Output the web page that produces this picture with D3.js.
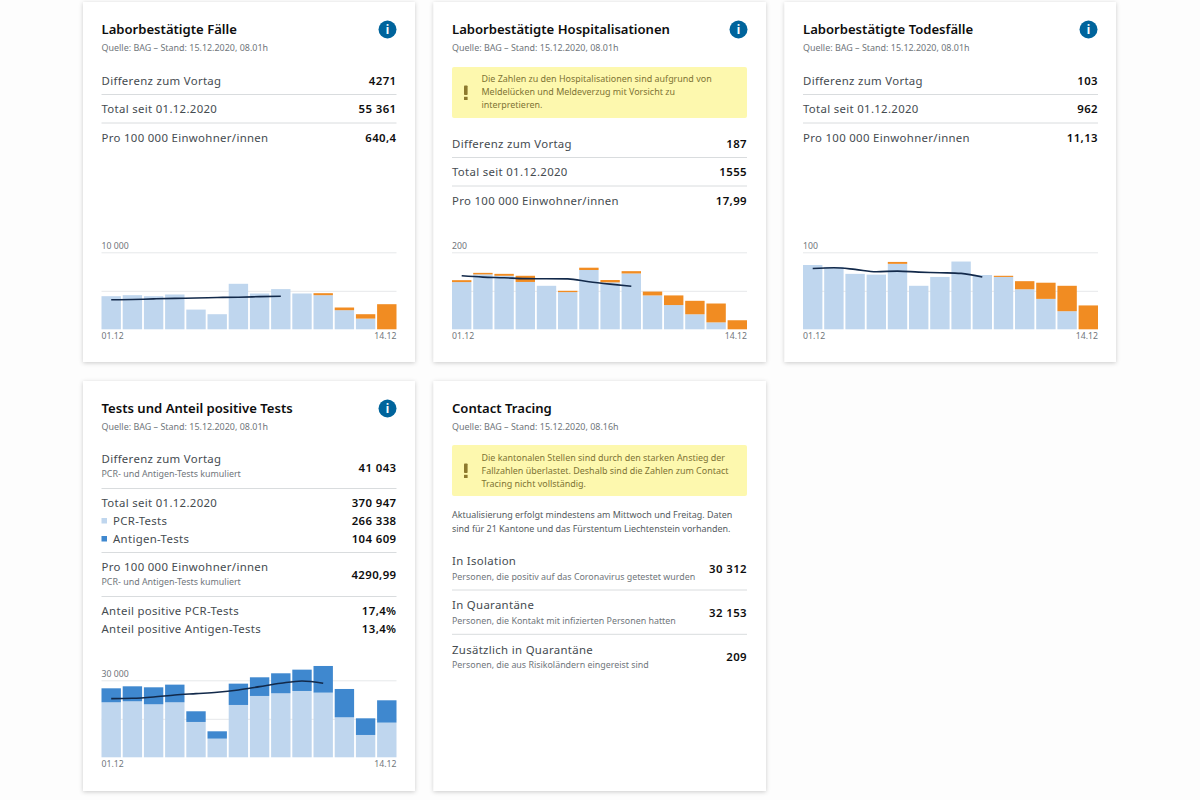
<!DOCTYPE html>
<html lang="de">
<head>
<meta charset="utf-8">
<title>COVID-19 Schweiz – Kennzahlen</title>
<script src="https://cdn.jsdelivr.net/npm/d3@7/dist/d3.min.js"></script>
<style>
html,body{margin:0;padding:0;background:#fdfdfd;overflow:hidden}
svg{display:block}
text{font-family:"Noto Sans","Open Sans",sans-serif}
</style>
</head>
<body>
<svg id="board" width="1200" height="800"></svg>
<script>
const days = ["01.12","02.12","03.12","04.12","05.12","06.12","07.12","08.12","09.12","10.12","11.12","12.12","13.12","14.12"];

// Laborbestätigte Fälle
const casesComplete = [4300,4430,4300,4520,2560,1960,5910,4650,5220,4650,4430,2480,1390,0];
const casesPending  = [0,0,0,0,0,0,0,0,0,0,260,350,570,3260];
const casesAverage  = [3830,3870,3950,4020,4060,4130,4170,4240,4300];

// Laborbestätigte Hospitalisationen
const hospComplete = [122.6,142.6,139,123,113,96.5,154,122,145,88,63,39,18,0];
const hospPending  = [5,4,5,16,0,3.5,6,6,6,10,25,35,49,23.5];
const hospAverage  = [139,135.6,133.9,131.5,131.3,131,123.5,117.4,112];

// Laborbestätigte Todesfälle
const deathComplete = [83.5,81,72,71,85,56.5,68,88,70.5,68,52,39.5,23.5,0];
const deathPending  = [0,0,0,0,2.5,0,0,0,0,1.5,10.5,21,33,31];
const deathAverage  = [79,79.9,77.8,74.8,75.6,74.3,73.5,72.6,67.8];

// Tests und Anteil positive Tests
const pcrTests     = [21430,21820,20650,21430,13770,7270,20390,23900,24940,25840,25190,15580,8700,13510];
const antigenTests = [5450,5840,6620,6880,4160,2860,8310,7270,7790,8310,10390,11040,6490,8700];
const testsAverage = [22860,22990,23510,24290,24810,25320,26230,27530,28830,29740,28830];

const axisLabels = ["01.12","14.12"];

const source801 = "Quelle: BAG – Stand: 15.12.2020, 08.01h";
const source816 = "Quelle: BAG – Stand: 15.12.2020, 08.16h";

const casesRows = [["Differenz zum Vortag","4271"],["Total seit 01.12.2020","55 361"],["Pro 100 000 Einwohner/innen","640,4"]];
const hospRows  = [["Differenz zum Vortag","187"],["Total seit 01.12.2020","1555"],["Pro 100 000 Einwohner/innen","17,99"]];
const deathRows = [["Differenz zum Vortag","103"],["Total seit 01.12.2020","962"],["Pro 100 000 Einwohner/innen","11,13"]];

const hospNotice = ["Die Zahlen zu den Hospitalisationen sind aufgrund von","Meldelücken und Meldeverzug mit Vorsicht zu","interpretieren."];
const tracingNotice = ["Die kantonalen Stellen sind durch den starken Anstieg der","Fallzahlen überlastet. Deshalb sind die Zahlen zum Contact","Tracing nicht vollständig."];
const tracingIntro = ["Aktualisierung erfolgt mindestens am Mittwoch und Freitag. Daten","sind für 21 Kantone und das Fürstentum Liechtenstein vorhanden."];
const tracingRows = [
  ["In Isolation","Personen, die positiv auf das Coronavirus getestet wurden","30 312"],
  ["In Quarantäne","Personen, die Kontakt mit infizierten Personen hatten","32 153"],
  ["Zusätzlich in Quarantäne","Personen, die aus Risikoländern eingereist sind","209"]
];

const INK = "#0d0d0d", BODY = "#454b50", MUTED = "#70767b", RULE = "#d9dcde";
const PALE = "#bfd6ee", ORANGE = "#f18c22", STRONG = "#3f88cf", LINE = "#12294a";
const BIG = 11.4, SMALL = 8.9, NUM_GAP = "0.4px", BODY_GAP = "0.32px";

const svg = d3.select("#board");
const defs = svg.append("defs");
const shadow = defs.append("filter").attr("id","cardShadow")
  .attr("x","-5%").attr("y","-5%").attr("width","110%").attr("height","110%");
shadow.append("feDropShadow").attr("dx",0).attr("dy",1).attr("stdDeviation",2.2)
  .attr("flood-color","#000").attr("flood-opacity",0.2);

function label(g, x, y, str, size, fill, opts = {}) {
  return g.append("text").attr("x",x).attr("y",y).text(str)
    .attr("font-size",size).attr("fill",fill)
    .attr("text-anchor",opts.anchor || "start")
    .attr("font-weight",opts.weight || 400)
    .attr("letter-spacing",opts.spacing || null);
}
const bodyText = (g,x,y,str) => label(g,x,y,str,BIG,BODY,{spacing:BODY_GAP});
const numText = (g,y,str) => label(g,313.5,y,str,BIG,INK,{anchor:"end",weight:600,spacing:NUM_GAP});

function card(x, y, w, h, title, source, hasInfo) {
  const g = svg.append("g").attr("transform",`translate(${x},${y})`);
  g.append("rect").attr("width",w).attr("height",h).attr("fill","#fff").attr("filter","url(#cardShadow)");
  label(g,18.5,32,title,13.1,INK,{weight:600});
  label(g,18.5,49,source,8.95,MUTED);
  if (hasInfo) {
    g.append("circle").attr("cx",w-27.5).attr("cy",27.5).attr("r",9).attr("fill","#00649c");
    label(g,w-27.5,31.5,"i",11.5,"#fff",{anchor:"middle",weight:700});
  }
  return g;
}

function valueRows(g, rows, top) {
  rows.forEach((r,i) => {
    const y = top + i*28.5;
    bodyText(g,18.5,y,r[0]);
    numText(g,y,r[1]);
    if (i < rows.length-1) g.append("line").attr("x1",18.5).attr("x2",313.5)
      .attr("y1",y+10).attr("y2",y+10).attr("stroke",RULE);
  });
}

function notice(g, top, height, lines, textTop) {
  g.append("rect").attr("x",18.5).attr("y",top).attr("width",295).attr("height",height).attr("rx",2).attr("fill","#fdf8ae");
  g.append("rect").attr("x",30.5).attr("y",top+height/2-7).attr("width",3.6).attr("height",9.5).attr("rx",0.8).attr("fill","#8d7a2e");
  g.append("rect").attr("x",30.5).attr("y",top+height/2+4.3).attr("width",3.6).attr("height",3.2).attr("fill","#8d7a2e");
  lines.forEach((l,i) => label(g,48,top+textTop+i*13.2,l,8.95,"#7d7434"));
}

// Small stacked bar chart with the trailing 7-day average drawn on top.
function barChart(g, lower, upper, average, maxValue, maxLabel, plotTop, lowerFill, upperFill) {
  const plotH = 77, left = 18.5, right = 313.5;
  const x = d3.scaleBand().domain(days).range([left,right]).paddingInner(0.085).paddingOuter(0);
  const y = d3.scaleLinear().domain([0,maxValue]).range([plotTop+plotH,plotTop]);

  [maxValue, maxValue/2].forEach(t => {
    g.append("line").attr("x1",left).attr("x2",right).attr("y1",y(t)+0.5).attr("y2",y(t)+0.5).attr("stroke","#e6e8ea");
  });
  label(g,left,plotTop-3.5,maxLabel,8.7,MUTED);

  g.append("g").selectAll("rect").data(days).join("rect")
    .attr("x",d => x(d)).attr("width",x.bandwidth())
    .attr("y",(d,i) => y(lower[i])).attr("height",(d,i) => y(0)-y(lower[i]))
    .attr("fill",lowerFill);
  g.append("g").selectAll("rect").data(days).join("rect")
    .attr("x",d => x(d)).attr("width",x.bandwidth())
    .attr("y",(d,i) => y(lower[i]+upper[i])).attr("height",(d,i) => y(0)-y(upper[i]))
    .attr("fill",upperFill);

  const path = d3.line().x((d,i) => x(days[i])+x.bandwidth()/2).y(d => y(d)).curve(d3.curveMonotoneX);
  g.append("path").attr("d",path(average)).attr("fill","none").attr("stroke",LINE).attr("stroke-width",1.6);

  label(g,left,plotTop+plotH+10,axisLabels[0],8.7,MUTED);
  label(g,right,plotTop+plotH+10,axisLabels[1],8.7,MUTED,{anchor:"end"});
}

// Top row
const c1 = card(83,2,332,360,"Laborbestätigte Fälle",source801,true);
valueRows(c1,casesRows,82.5);
barChart(c1,casesComplete,casesPending,casesAverage,10000,"10 000",250.3,PALE,ORANGE);

const c2 = card(433.5,2,332.5,360,"Laborbestätigte Hospitalisationen",source801,true);
notice(c2,65,51,hospNotice,15);
valueRows(c2,hospRows,145.5);
barChart(c2,hospComplete,hospPending,hospAverage,200,"200",250.3,PALE,ORANGE);

const c3 = card(784.5,2,331.5,360,"Laborbestätigte Todesfälle",source801,true);
valueRows(c3,deathRows,82.5);
barChart(c3,deathComplete,deathPending,deathAverage,100,"100",250.3,PALE,ORANGE);

// Bottom row: test figures
const c4 = card(83,381,332,410,"Tests und Anteil positive Tests",source801,true);
bodyText(c4,18.5,82,"Differenz zum Vortag");
label(c4,18.5,96,"PCR- und Antigen-Tests kumuliert",SMALL,MUTED);
numText(c4,90.5,"41 043");
c4.append("line").attr("x1",18.5).attr("x2",313.5).attr("y1",107.5).attr("y2",107.5).attr("stroke",RULE);
bodyText(c4,18.5,126,"Total seit 01.12.2020");
numText(c4,126,"370 947");
c4.append("rect").attr("x",18.5).attr("y",137).attr("width",5.5).attr("height",5.5).attr("fill",PALE);
bodyText(c4,30,144,"PCR-Tests");
numText(c4,144,"266 338");
c4.append("rect").attr("x",18.5).attr("y",155).attr("width",5.5).attr("height",5.5).attr("fill",STRONG);
bodyText(c4,30,162,"Antigen-Tests");
numText(c4,162,"104 609");
c4.append("line").attr("x1",18.5).attr("x2",313.5).attr("y1",171.5).attr("y2",171.5).attr("stroke",RULE);
bodyText(c4,18.5,190,"Pro 100 000 Einwohner/innen");
label(c4,18.5,204,"PCR- und Antigen-Tests kumuliert",SMALL,MUTED);
numText(c4,198,"4290,99");
c4.append("line").attr("x1",18.5).attr("x2",313.5).attr("y1",215.5).attr("y2",215.5).attr("stroke",RULE);
bodyText(c4,18.5,234,"Anteil positive PCR-Tests");
numText(c4,234,"17,4%");
bodyText(c4,18.5,252,"Anteil positive Antigen-Tests");
numText(c4,252,"13,4%");
barChart(c4,pcrTests,antigenTests,testsAverage,30000,"30 000",299.3,PALE,STRONG);

// Bottom row: contact tracing figures
const c5 = card(433.5,381,332.5,410,"Contact Tracing",source816,false);
notice(c5,64,51,tracingNotice,16);
tracingIntro.forEach((l,i) => label(c5,18.5,137+i*13.5,l,8.95,"#555b60"));
tracingRows.forEach((r,i) => {
  const y = 184 + i*44.3;
  bodyText(c5,18.5,y,r[0]);
  label(c5,18.5,y+14.5,r[1],SMALL,MUTED);
  numText(c5,y+7.5,r[2]);
  if (i < tracingRows.length-1) c5.append("line").attr("x1",18.5).attr("x2",313.5)
    .attr("y1",y+25).attr("y2",y+25).attr("stroke",RULE);
});
</script>
</body>
</html>
